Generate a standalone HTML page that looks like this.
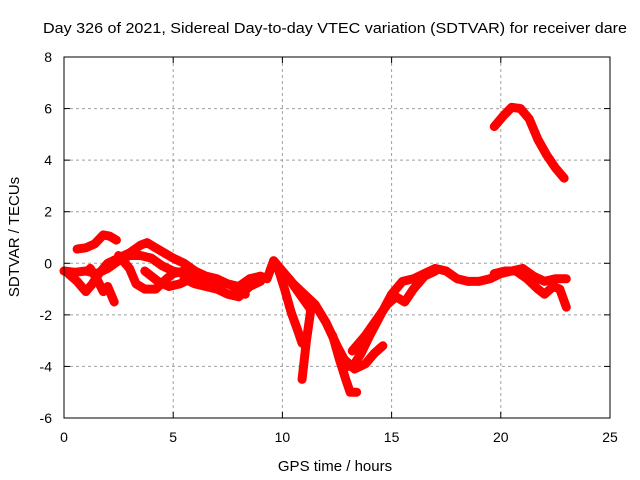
<!DOCTYPE html>
<html><head><meta charset="utf-8"><style>body{margin:0;background:#fff}svg{display:block;font-family:"Liberation Sans",sans-serif}</style></head>
<body>
<svg id="chart" width="640" height="480">
<rect width="640" height="480" fill="#fff"/>
<text x="43" y="33" font-size="15" textLength="584" lengthAdjust="spacingAndGlyphs">Day 326 of 2021, Sidereal Day-to-day VTEC variation (SDTVAR) for receiver dare</text>
<g id="grid"></g>
<g id="series"></g>
<rect x="64" y="57" width="546" height="361" fill="none" stroke="#000" stroke-width="1"/>
<g id="ticks"></g>
<text x="335" y="471" font-size="15" text-anchor="middle">GPS time / hours</text>
<text transform="translate(19,237) rotate(-90)" font-size="15" text-anchor="middle">SDTVAR / TECUs</text>
</svg>
<script>
const xTicks=[0,5,10,15,20,25];
const yTicks=[-6,-4,-2,0,2,4,6,8];
const trackMainT=[0,0.5,1,1.5,2,2.5,3,3.5,4,4.5,5,5.5,6,6.5,7,7.5,8,8.5,9,9.3,9.6];
const trackMainV=[-0.3,-0.35,-0.3,-0.4,-0.2,0.1,0.3,0.3,0.2,-0.1,-0.3,-0.4,-0.6,-0.6,-0.8,-0.8,-0.9,-0.6,-0.5,-0.6,0.1];
const trackUpT=[0.6,1.0,1.4,1.8,2.1,2.4];
const trackUpV=[0.55,0.6,0.75,1.1,1.05,0.9];
const trackCT=[0.2,0.6,1.0,1.3,1.6,2.0,2.5,3.0,3.5,3.8,4.2,4.6,5.0,5.5,6.0,6.5,7.0,7.5,8.0,8.3];
const trackCV=[-0.4,-0.7,-1.1,-0.8,-0.4,0,0.2,0.4,0.7,0.8,0.6,0.4,0.2,0,-0.3,-0.5,-0.6,-0.8,-1.0,-1.2];
const trackDT=[1.2,1.5,1.8,2.0,2.3];
const trackDV=[-0.2,-0.6,-1.1,-0.9,-1.5];
const trackLoopT=[2.5,3.0,3.3,3.7,4.2,4.7,5.0,5.5,6.2];
const trackLoopV=[0.3,-0.2,-0.8,-1.0,-1.0,-0.6,-0.4,-0.3,-0.5];
const trackL2T=[3.7,4.3,4.8,5.3,5.8];
const trackL2V=[-0.3,-0.7,-0.9,-0.8,-0.6];
const trackLowT=[5.5,6.0,6.5,7.0,7.5,8.0,8.5,9.0];
const trackLowV=[-0.6,-0.8,-0.9,-1.0,-1.2,-1.3,-0.9,-0.7];
const trackBigT=[9.6,10,10.5,11,11.5,12,12.5,13,13.3,13.6,14,14.5,15,15.5,16,16.5,17,17.5,18,18.5,19,19.5,20,20.5,21,21.5,22,22.5,23];
const trackBigV=[0.1,-0.3,-0.8,-1.2,-1.6,-2.3,-3.2,-4.0,-3.9,-3.5,-2.8,-2.0,-1.2,-0.7,-0.6,-0.4,-0.2,-0.3,-0.6,-0.7,-0.7,-0.6,-0.4,-0.3,-0.2,-0.5,-0.7,-0.6,-0.6];
const trackB1T=[9.8,10.1,10.4,10.7,10.9];
const trackB1V=[-0.2,-1.0,-1.9,-2.6,-3.1];
const trackB2T=[10.3,10.8,11.3,11.1,10.9];
const trackB2V=[-0.6,-1.2,-1.8,-3.0,-4.5];
const trackB3T=[12.3,12.6,12.9,13.1,13.4];
const trackB3V=[-2.8,-3.7,-4.5,-5.0,-5.0];
const trackB4T=[12.8,13.3,13.8,14.2,14.6];
const trackB4V=[-3.7,-4.1,-3.9,-3.5,-3.2];
const trackB5T=[13.2,13.8,14.3,14.8,15.2,15.6,16.0,16.5,17.0];
const trackB5V=[-3.4,-2.8,-2.2,-1.6,-1.3,-1.5,-1.0,-0.5,-0.3];
const trackRT=[19.7,20.2,20.7,21.2,21.7,22.0,22.4,22.7,23.0];
const trackRV=[-0.4,-0.3,-0.3,-0.6,-1.0,-1.2,-0.9,-1.0,-1.7];
const trackHiT=[19.7,20.1,20.5,20.9,21.3,21.7,22.1,22.5,22.9];
const trackHiV=[5.3,5.7,6.05,6.0,5.6,4.8,4.2,3.7,3.3];
const tracks=[[trackMainT,trackMainV],[trackUpT,trackUpV],[trackCT,trackCV],[trackDT,trackDV],[trackLoopT,trackLoopV],[trackL2T,trackL2V],[trackLowT,trackLowV],[trackBigT,trackBigV],[trackB1T,trackB1V],[trackB2T,trackB2V],[trackB3T,trackB3V],[trackB4T,trackB4V],[trackB5T,trackB5V],[trackRT,trackRV],[trackHiT,trackHiV]];
const NS="http://www.w3.org/2000/svg";
const X=t=>64+t*(546/25), Y=v=>418-(v+6)*(361/14);
function mk(tag,at,parent){const e=document.createElementNS(NS,tag);for(const k in at)e.setAttribute(k,at[k]);parent.appendChild(e);return e;}
const grid=document.getElementById('grid'),ticks=document.getElementById('ticks'),ser=document.getElementById('series');
xTicks.forEach(t=>{const x=X(t);
 if(t>0&&t<25){const g=mk('line',{x1:x,x2:x,y1:57,y2:418,stroke:'#a0a0a0','stroke-dasharray':'3,3'},grid);
 
 }
 mk('line',{x1:x,x2:x,y1:418,y2:412,stroke:'#000'},ticks);mk('line',{x1:x,x2:x,y1:57,y2:63,stroke:'#000'},ticks);
 const l=mk('text',{x:x,y:442,'font-size':14,'text-anchor':'middle'},ticks);l.textContent=t;
 
 });
yTicks.forEach(v=>{const y=Y(v);
 if(v>-6&&v<8){const g=mk('line',{x1:64,x2:610,y1:y,y2:y,stroke:'#a0a0a0','stroke-dasharray':'3,3'},grid);
 
 }
 mk('line',{x1:64,x2:70,y1:y,y2:y,stroke:'#000'},ticks);mk('line',{x1:610,x2:604,y1:y,y2:y,stroke:'#000'},ticks);
 const l=mk('text',{x:52,y:y+5,'font-size':14,'text-anchor':'end'},ticks);l.textContent=v;
 
 });
tracks.forEach(([T,V],i)=>{
 const p=mk('polyline',{points:T.map((t,j)=>X(t)+','+Y(V[j])).join(' '),fill:'none',stroke:'#ff0000','stroke-width':9,'stroke-linejoin':'round','stroke-linecap':'round'},ser);
 
 
 T.forEach((t,j)=>{const x=X(t),y=Y(V[j]);
  const m=mk('path',{d:`M${x-4},${y}h8M${x},${y-4}v8`,stroke:'#ff0000','stroke-width':1.5},ser);
  
  });
});
</script>
</body></html>
